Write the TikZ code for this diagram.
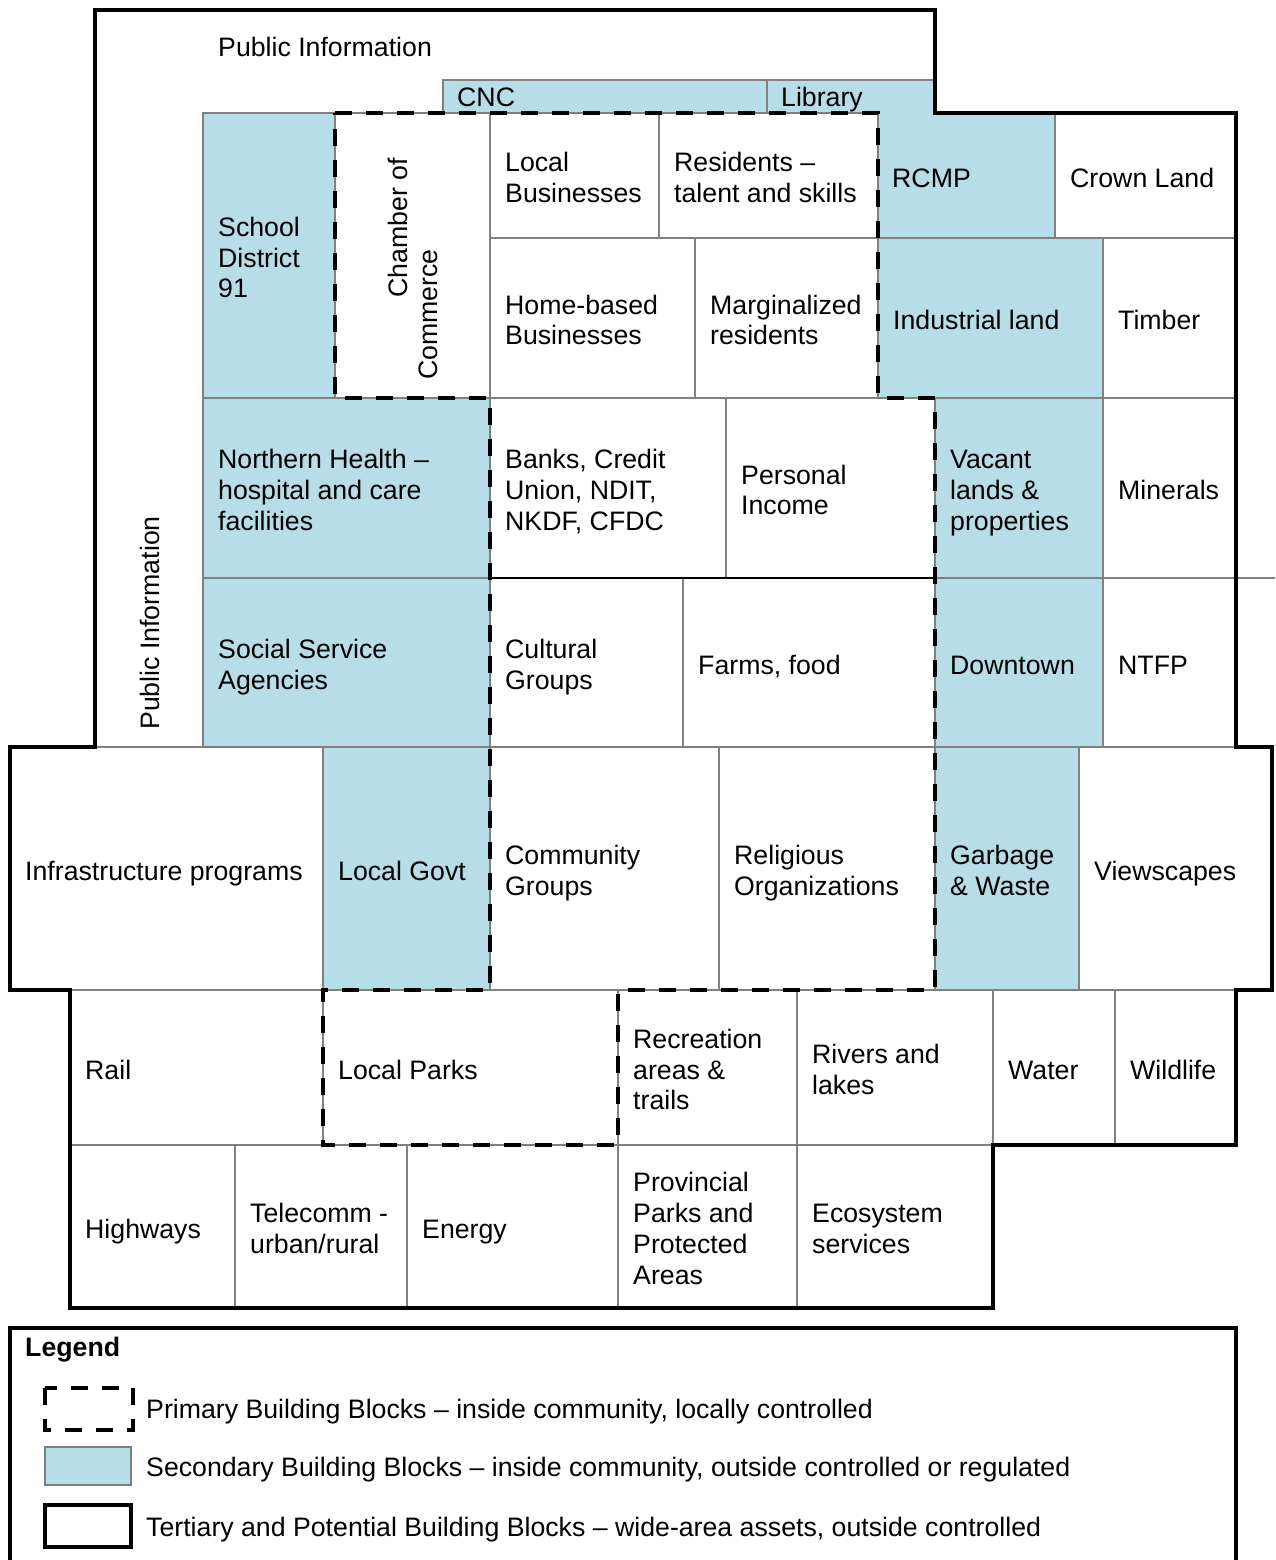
\documentclass[tikz,border=0pt]{standalone}
\usepackage{fontspec}
\setmainfont{Liberation Sans}
\usepackage{tikz}
\definecolor{SecBlue}{RGB}{183,221,232}
\definecolor{CellGray}{RGB}{128,128,128}
\newcommand{\cellfont}{\fontsize{26.7}{30.7}\selectfont}
\newcommand{\cellstrut}{\rule[-6pt]{0pt}{31pt}}

\begin{document}
\begin{tikzpicture}[x=1pt,y=-1pt,
  cellbox/.style={draw=CellGray,line width=1.2pt},
  sec/.style={cellbox,fill=SecBlue},
  prim/.style={line width=4pt,dash pattern=on 17pt off 14pt},
  outl/.style={line width=3.5pt,line join=miter},
  lbl/.style={anchor=west,align=left,inner sep=0pt,font=\cellfont,
    execute at begin node=\cellstrut,execute at end node=\cellstrut}]
\useasboundingbox (0,0) rectangle (1275,1560);

% secondary building blocks
\foreach \xa/\ya/\xb/\yb/\nm/\txt in {
  203/113/335/398/school/{School\\District\\91},
  878/238/1103/398/indland/{Industrial land},
  203/398/490/578/health/{Northern Health –\\hospital and care\\facilities},
  203/578/490/747/social/{Social Service\\Agencies},
  935/398/1103/578/vacant/{Vacant\\lands \&\\properties},
  935/578/1103/747/downtown/{Downtown},
  323/747/490/990/govt/{Local Govt},
  935/747/1079/990/garbage/{Garbage\\\& Waste}} {
  \draw[sec] (\xa,\ya) rectangle (\xb,\yb);
  \node[lbl] (\nm) at ({\xa+15},{(\ya+\yb)/2+2}) {\cellstrut\txt};
}
\draw[sec] (443,80) rectangle (767,113);
\node[lbl] (cnc) at (457,97) {CNC};
\draw[sec] (767,80) -- (935,80) -- (935,113) -- (1055,113) -- (1055,238)
  -- (878,238) -- (878,113) -- (767,113) -- cycle;
\node[lbl] (library) at (781,97) {Library};
\node[lbl] (rcmp) at (892,178) {RCMP};

% primary and tertiary cells
\foreach \xa/\ya/\xb/\yb/\nm/\txt in {
  490/113/659/238/localbus/{Local\\Businesses},
  659/113/878/238/residents/{Residents –\\talent and skills},
  1055/113/1236/238/crown/{Crown Land},
  490/238/695/398/homebus/{Home-based\\Businesses},
  695/238/878/398/marginal/{Marginalized\\residents},
  1103/238/1236/398/timber/{Timber},
  490/398/726/578/banks/{Banks, Credit\\Union, NDIT,\\NKDF, CFDC},
  726/398/935/578/income/{Personal\\Income},
  1103/398/1236/578/minerals/{Minerals},
  490/578/683/747/cultural/{Cultural\\Groups},
  683/578/935/747/farms/{Farms, food},
  1103/578/1236/747/ntfp/{NTFP},
  10/747/323/990/infra/{Infrastructure programs},
  490/747/719/990/community/{Community\\Groups},
  719/747/935/990/religious/{Religious\\Organizations},
  1079/747/1272/990/views/{Viewscapes},
  70/990/323/1145/rail/{Rail},
  323/990/618/1145/lparks/{Local Parks},
  618/990/797/1145/recreation/{Recreation\\areas \&\\trails},
  797/990/993/1145/rivers/{Rivers and\\lakes},
  993/990/1115/1145/water/{Water},
  1115/990/1236/1145/wildlife/{Wildlife},
  70/1145/235/1308/highways/{Highways},
  235/1145/407/1308/telecomm/{Telecomm -\\urban/rural},
  407/1145/618/1308/energy/{Energy},
  618/1145/797/1308/provparks/{Provincial\\Parks and\\Protected\\Areas},
  797/1145/993/1308/ecosys/{Ecosystem\\services}} {
  \draw[cellbox] (\xa,\ya) rectangle (\xb,\yb);
  \node[lbl] (\nm) at ({\xa+15},{(\ya+\yb)/2+2}) {\cellstrut\txt};
}
\draw[cellbox] (335,113) rectangle (490,398);
\node[lbl,rotate=90] (chamber) at (413,380) {\cellstrut\hspace*{82pt}Chamber of\\Commerce};
\draw[line width=2.5pt] (490,578) -- (935,578);
\draw[cellbox] (1236,578) -- (1275,578);

% primary outline
\draw[prim] (335,113) -- (878,113) -- (878,398) -- (935,398) -- (935,990)
  -- (618,990) -- (618,1145) -- (323,1145) -- (323,990) -- (490,990)
  -- (490,398) -- (335,398) -- cycle;

% tertiary outline
\draw[outl] (95,10) -- (935,10) -- (935,113) -- (1236,113) -- (1236,747)
  -- (1272,747) -- (1272,990) -- (1236,990) -- (1236,1145) -- (993,1145)
  -- (993,1308) -- (70,1308) -- (70,990) -- (10,990) -- (10,747)
  -- (95,747) -- cycle;
\node[lbl] (pubtop) at (218,47) {Public Information};
\node[lbl,rotate=90] (publeft) at (150,730) {Public Information};

% legend
\draw[outl] (10,1560) -- (10,1328) -- (1236,1328) -- (1236,1560);
\node[lbl,font=\cellfont\bfseries] (legend) at (25,1347) {Legend};
\draw[prim] (45,1388) rectangle (133,1430);
\node[lbl] (primtxt) at (146,1409) {Primary Building Blocks – inside community, locally controlled};
\draw[sec] (45,1447) rectangle (131,1485);
\node[lbl] (sectxt) at (146,1467) {Secondary Building Blocks – inside community, outside controlled or regulated};
\draw[outl] (45,1505) rectangle (131,1547);
\node[lbl] (tertxt) at (146,1527) {Tertiary and Potential Building Blocks – wide-area assets, outside controlled};
\end{tikzpicture}
\end{document}
